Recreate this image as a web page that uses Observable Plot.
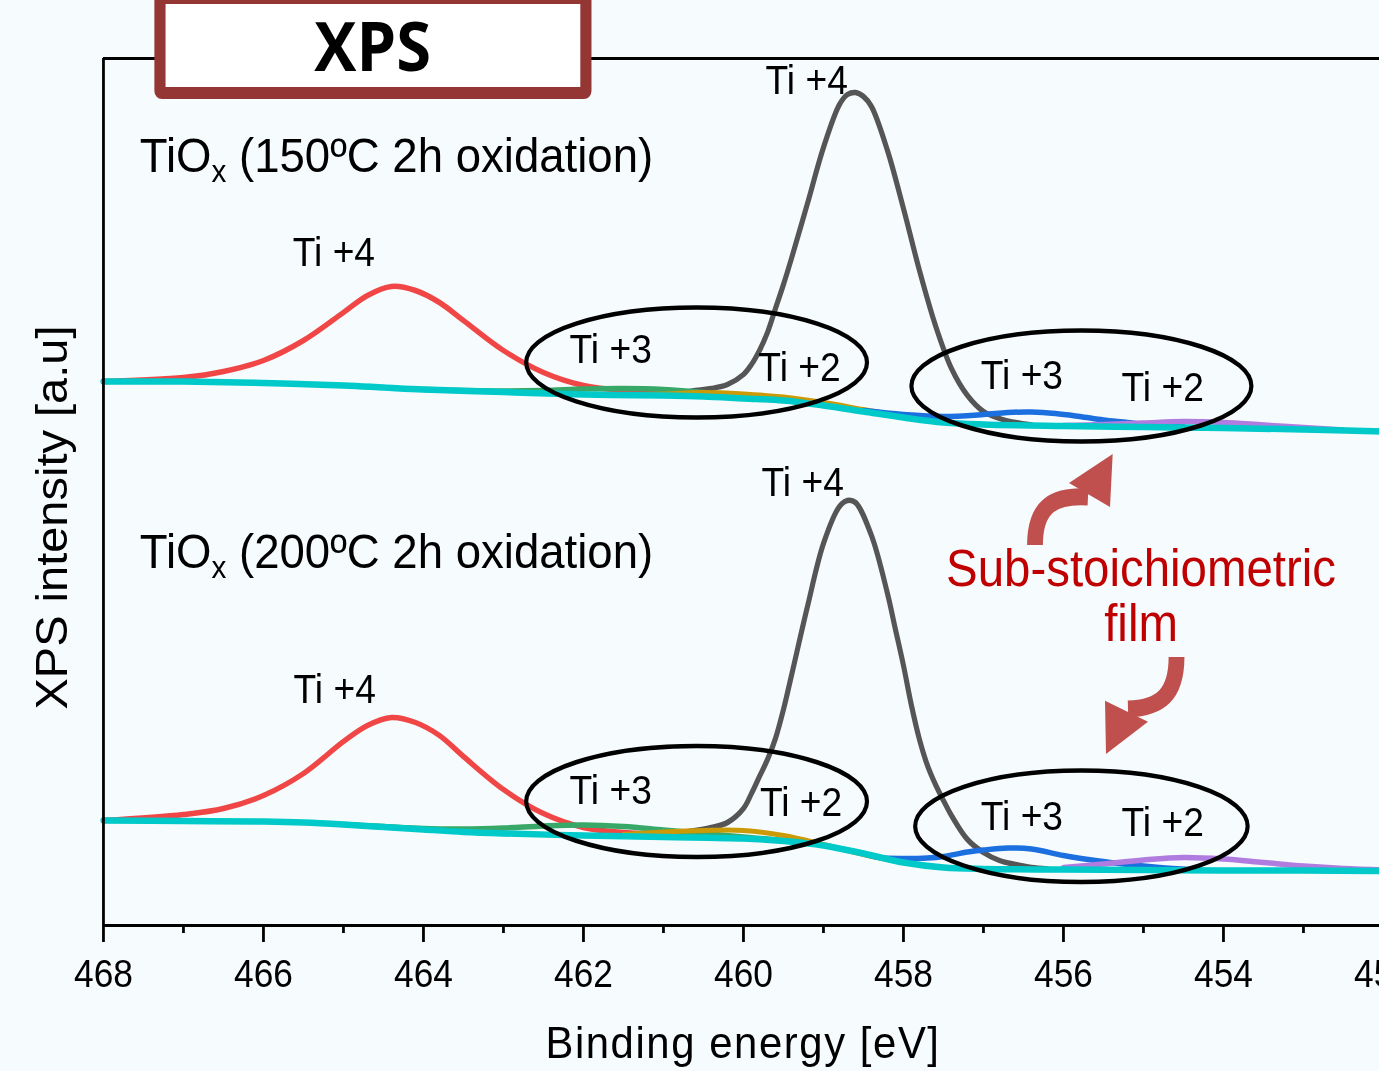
<!DOCTYPE html>
<html>
<head>
<meta charset="utf-8">
<script src="https://cdn.jsdelivr.net/npm/d3@7"></script>
<script src="https://cdn.jsdelivr.net/npm/@observablehq/plot@0.6"></script>
<style>
  html, body { margin: 0; padding: 0; width: 1379px; height: 1071px; overflow: hidden; background: #f6fbfd; }
  #wrap { position: absolute; left: 0; top: 0; width: 1500px; height: 1071px; transform: scaleX(0.93); transform-origin: 0 0; }
  #wrap svg { display: block; overflow: visible; }
  #xpsbox { position: absolute; left: 166px; top: -8px; width: 469.5px; height: 107.3px; box-sizing: border-box;
            border: 12.5px solid #943634; border-radius: 8px; background: #ffffff; text-align: center;
            font-family: 'Open Sans', sans-serif; font-weight: 700; font-size: 68px; line-height: 82.3px; color: #000; }
</style>
</head>
<body>
<div id="wrap"><div id="xpsbox">XPS</div></div>
<script>
// ---------------- data ----------------
const majorTicks = [468, 466, 464, 462, 460, 458, 456, 454, 452];
const minorTicks = [467, 465, 463, 461, 459, 457, 455, 453];

// TiOx 150 ºC 2h oxidation — [binding energy (eV), intensity (a.u., offset)]
const bgA   = [[468,544],[467,544],[466,542.5],[465,540],[464.5,538],[464,536],[463,533.5],[462,531],[461,530],[460.5,529],[460,527],[459.5,525],[459,520],[458.5,514],[458,508],[457.5,503],[457,501],[456,499.5],[455,498.5],[454,497.5],[453,496],[452,494]];
const ti4aA = [[468,544],[467,548],[466.5,554],[466,565],[465.5,585],[465,613],[464.7,630],[464.4,639],[464.1,635],[463.8,623],[463.5,605],[463,575],[462.5,553],[462,540],[461.5,535],[461,533]];
const ti3aA = [[464,536],[463,534.5],[462.5,535],[462,536.5],[461.5,537],[461,536],[460.5,533],[460,528.5],[459.5,525]];
const ti2aA = [[461.5,530],[461,531.5],[460.5,533],[460,531.5],[459.5,528.5],[459,523],[458.5,516],[458,509]];
const ti4bA = [[460.8,532],[460.6,535],[460.4,537],[460.2,541],[460.0,551],[459.9,561],[459.8,575],[459.7,593],[459.6,617],[459.5,641],[459.4,667],[459.2,722],[459.0,778],[458.8,821],[458.7,831],[458.6,833],[458.5,829],[458.4,819],[458.2,775],[458.0,717],[457.8,655],[457.6,600],[457.4,557],[457.2,530],[457.0,514],[456.8,507],[456.6,503],[456.4,500.5]];
const ti3bA = [[458.5,515],[458,511],[457.5,509],[457,511],[456.7,513],[456.4,513.5],[456.1,512],[455.8,509],[455.5,505.5],[455.2,503],[455,501],[454.5,499]];
const ti2bA = [[456,500],[455.5,501],[455,502.5],[454.5,504],[454,503],[453.5,500.5],[453,498],[452.5,495.5]];

// TiOx 200 ºC 2h oxidation
const bgB   = [[468,105],[467,104.5],[466,104],[465.5,103],[465,101],[464.5,98.5],[464,96],[463.5,93.5],[463,92],[462,90],[461,88.5],[460,87],[459.5,84.5],[459,80],[458.5,72],[458,63],[457.5,58],[457,56.5],[456,56],[455,55.5],[454,55],[453,55],[452,54.5]];
const ti4aB = [[468,105],[467,111],[466.5,117],[466,130],[465.5,152],[465,184],[464.7,200],[464.4,208],[464.1,203],[463.8,190],[463.5,169],[463,136],[462.5,112],[462,98],[461.5,93],[461,91]];
const ti3aB = [[465,101],[464.5,99],[464,97],[463.5,96.5],[463,97.5],[462.5,99.5],[462,100.5],[461.5,99],[461,95.5],[460.5,92],[460,88.5],[459.5,85]];
const ti2aB = [[461.5,91],[461,93.5],[460.5,95],[460,95],[459.5,90],[459,81],[458.5,71],[458,63]];
const ti4bB = [[460.8,93],[460.6,95],[460.4,98],[460.2,103],[460.0,117],[459.9,132],[459.8,149],[459.7,166],[459.6,187],[459.5,216],[459.4,250],[459.2,319],[459.0,382],[458.8,419],[458.7,425],[458.6,423],[458.4,390],[458.2,332],[458.1,296],[458.0,260],[457.9,220],[457.8,186],[457.7,160],[457.6,141],[457.5,125],[457.4,110],[457.2,86],[457.0,73],[456.8,65],[456.6,61],[456.4,58],[456.2,56.5]];
const ti3bB = [[458.5,72],[458.3,68],[458,67],[457.7,67.5],[457.5,69],[457.2,73.5],[457,75.5],[456.7,77.5],[456.4,76.5],[456,70],[455.6,65],[455.2,61],[454.8,58],[454.4,56]];
const ti2bB = [[456,58],[455.5,61.5],[455,65.5],[454.5,68],[454,66.5],[453.5,63],[453,59.5],[452.5,57],[452,55.5]];

const components = ["Ti4+ 2p1/2", "Ti4+ 2p3/2", "Ti3+ 2p1/2", "Ti2+ 2p1/2", "Ti3+ 2p3/2", "Ti2+ 2p3/2", "Background"];
const seriesA = [ti4aA, ti4bA, ti3aA, ti2aA, ti3bA, ti2bA, bgA];
const seriesB = [ti4aB, ti4bB, ti3aB, ti2aB, ti3bB, ti2bB, bgB];

// peak labels
const peakLabel  = ["Ti +4", "Ti +4", "Ti +3", "Ti +2", "Ti +3", "Ti +2", "Ti +4", "Ti +4", "Ti +3", "Ti +2", "Ti +3", "Ti +2"];
const peakLabelE = [465.12, 459.21, 461.66, 459.30, 456.52, 454.76, 465.11, 459.26, 461.66, 459.28, 456.52, 454.76];
const peakLabelI = [660, 831.5, 562.5, 545, 536.5, 525, 223, 430, 121.5, 110, 95.5, 90];

// sample titles
const sampleTemp   = ["150", "200"];
const sampleTitleE = [467.54, 467.54];
const sampleTitleI = [753, 357];

// highlight rings (centre E, centre I, radius in eV, radius in a.u.)
const ringE  = [460.58, 455.77, 460.58, 455.77];
const ringI  = [562.5, 539, 123.5, 98.75];
const ringRE = [2.13, 2.125, 2.13, 2.078];
const ringRI = [55, 55.5, 55.5, 55.75];

// texts
const xTitle = "Binding energy [eV]";
const yTitle = "XPS intensity [a.u]";
const noteText = "Sub-stoichiometric\nfilm";

// ---------------- styles ----------------
const FONT = "'Liberation Sans', Arial, Helvetica, sans-serif";
const compColors = ["#f04646", "#555555", "#38a869", "#cc9a06", "#1c6fde", "#b07ce0", "#00c9c9"];
const compWidths = [5.5, 5.5, 5.5, 5, 5.5, 5.5, 6.5];

// ---------------- build table ----------------
const rows = [];
components.forEach((c, k) => {
  for (const [E, I] of seriesA[k]) rows.push({sample: "150", comp: c, E, I});
  for (const [E, I] of seriesB[k]) rows.push({sample: "200", comp: c, E, I});
});

const lineMarks = components.map((c, k) =>
  Plot.line(rows.filter(r => r.comp === c), {
    x: "E", y: "I", z: "sample", stroke: compColors[k], strokeWidth: compWidths[k],
    curve: "catmull-rom", strokeLinejoin: "round", strokeLinecap: "round"
  })
);

const chart = Plot.plot({
  width: 1500, height: 1071,
  marginLeft: 110.75, marginRight: 12.9, marginTop: 58, marginBottom: 146,
  x: {domain: [468, 452]},
  y: {domain: [0, 867], axis: null},
  style: {background: "transparent", fontFamily: FONT, color: "#000", overflow: "visible"},
  marks: [
    ...lineMarks,
    Plot.ruleX([468], {stroke: "#000", strokeWidth: 3}),
    Plot.ruleY([0, 867], {stroke: "#000", strokeWidth: 3}),
    Plot.axisX({ticks: majorTicks, tickSize: 17, tickPadding: 18, fontSize: 38, strokeWidth: 3, tickFormat: "d", label: null, fontFamily: FONT}),
    Plot.axisX({ticks: minorTicks, tickSize: 8, strokeWidth: 3, tickFormat: () => "", label: null}),
    Plot.text(d3.range(peakLabel.length), {
      x: i => peakLabelE[i], y: i => peakLabelI[i], text: i => peakLabel[i],
      fontSize: 40, textAnchor: "middle", lineAnchor: "bottom", fill: "#000", fontFamily: FONT
    }),
    Plot.text([yTitle], {x: () => 468.45, y: () => 408, rotate: -90, fontSize: 47, textAnchor: "middle", lineAnchor: "bottom", fill: "#000", fontFamily: FONT}),
    Plot.text([noteText], {x: () => 455.03, y: () => 284.3, fontSize: 51, lineHeight: 1.092, textAnchor: "middle", lineAnchor: "bottom", fill: "#c00000", fontFamily: FONT})
  ]
});

const wrap = document.getElementById("wrap");
wrap.insertBefore(chart, wrap.firstChild);

const sx = chart.scale("x"), sy = chart.scale("y");
const svg = d3.select(chart);

// x axis title
svg.append("text")
  .attr("x", sx.apply(460.0)).attr("y", sy.apply(-133))
  .attr("text-anchor", "middle").attr("font-family", FONT).attr("font-size", 45)
  .attr("letter-spacing", 1.7).attr("fill", "#000").text(xTitle);

// sample titles with subscript
sampleTemp.forEach((t, i) => {
  const txt = svg.append("text")
    .attr("x", sx.apply(sampleTitleE[i])).attr("y", sy.apply(sampleTitleI[i]))
    .attr("text-anchor", "start")
    .attr("font-family", FONT).attr("font-size", 49).attr("fill", "#000");
  txt.append("tspan").text("TiO");
  txt.append("tspan").attr("font-size", 32).attr("dy", 10).text("x");
  txt.append("tspan").attr("dy", -10).text(` (${t}ºC 2h oxidation)`);
});

// highlight rings
ringE.forEach((e, i) => {
  svg.append("ellipse")
    .attr("cx", sx.apply(e)).attr("cy", sy.apply(ringI[i]))
    .attr("rx", Math.abs(sx.apply(e + ringRE[i]) - sx.apply(e)))
    .attr("ry", Math.abs(sy.apply(ringI[i] + ringRI[i]) - sy.apply(ringI[i])))
    .attr("fill", "none").attr("stroke", "#000").attr("stroke-width", 4.5);
});

// curved arrows (in data coordinates)
const arrowShafts = [
  [[456.35, 380], [456.35, 420], [456.10, 430], [455.6875, 428]],
  [[454.581, 268], [454.581, 230], [454.7875, 217], [455.1875, 216]]
];
const arrowHeads = [
  [[455.379, 471], [455.925, 442], [455.4125, 418]],
  [[455.4625, 171], [455.475, 224.3], [454.9375, 203.3]]
];
const P = ([e, v]) => `${sx.apply(e)},${sy.apply(v)}`;
arrowShafts.forEach((s, i) => {
  svg.append("path")
    .attr("d", `M${P(s[0])} C${P(s[1])} ${P(s[2])} ${P(s[3])}`)
    .attr("fill", "none").attr("stroke", "#c0504d").attr("stroke-width", 17).attr("stroke-linecap", "butt");
  svg.append("polygon")
    .attr("points", arrowHeads[i].map(P).join(" "))
    .attr("fill", "#c0504d");
});
</script>
</body>
</html>
